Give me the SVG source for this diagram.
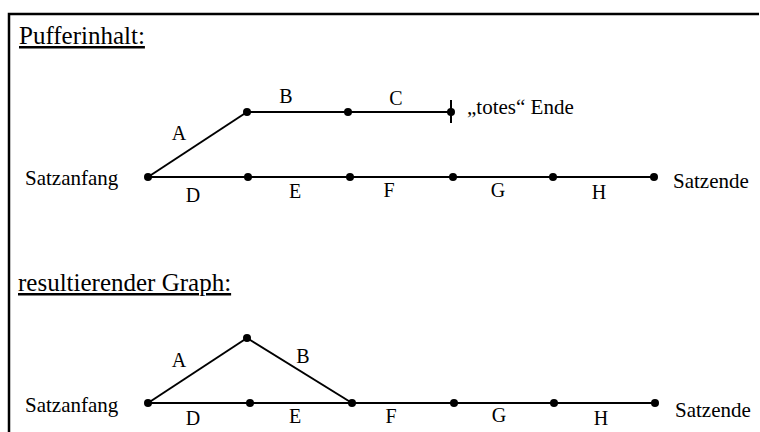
<svg xmlns="http://www.w3.org/2000/svg" width="760" height="432" viewBox="0 0 760 432">
<style>
.frame{fill:none;stroke:#000;stroke-width:2.5}
.edge{stroke:#000;stroke-width:2;fill:none}
.dot{fill:#000}
.lbl{font-family:"Liberation Serif","Times New Roman",serif;font-size:20px;fill:#000}
.end{font-family:"Liberation Serif","Times New Roman",serif;font-size:21px;fill:#000}
.title{font-family:"Liberation Serif","Times New Roman",serif;font-size:25px;fill:#000;text-decoration:underline}
</style>
<rect width="760" height="432" fill="#fff"/>
<path class="frame" d="M9,432 V14 H759"/>
<text class="title" x="19" y="44">Pufferinhalt:</text>
<text class="title" x="18" y="291">resultierender Graph:</text>
<g id="connectors">
<line class="edge" x1="148" y1="177" x2="247" y2="112"/>
<line class="edge" x1="247" y1="112" x2="451" y2="112"/>
<line class="edge" x1="451" y1="100" x2="451" y2="123"/>
<line class="edge" x1="148" y1="177" x2="654" y2="177"/>
<line class="edge" x1="148" y1="403" x2="247" y2="338"/>
<line class="edge" x1="247" y1="338" x2="352" y2="403"/>
<line class="edge" x1="148" y1="403" x2="655" y2="403"/>
</g>
<g id="top-graph">
<g id="t-start"><circle class="dot" cx="148" cy="177" r="4"/><text class="end" x="25" y="185">Satzanfang</text></g>
<g id="t-b1"><circle class="dot" cx="247" cy="112" r="4"/></g>
<g id="t-b2"><circle class="dot" cx="348" cy="112" r="4"/></g>
<g id="t-b3"><circle class="dot" cx="451" cy="112" r="4"/><text class="end" x="467" y="114">„totes“ Ende</text></g>
<g id="t-n1"><circle class="dot" cx="248" cy="177" r="4"/></g>
<g id="t-n2"><circle class="dot" cx="350" cy="177" r="4"/></g>
<g id="t-n3"><circle class="dot" cx="453" cy="177" r="4"/></g>
<g id="t-n4"><circle class="dot" cx="553" cy="177" r="4"/></g>
<g id="t-end"><circle class="dot" cx="654" cy="177" r="4"/><text class="end" x="673" y="188">Satzende</text></g>
<g id="t-labels" text-anchor="middle">
<text class="lbl" x="179" y="140">A</text>
<text class="lbl" x="286" y="103">B</text>
<text class="lbl" x="396" y="105">C</text>
<text class="lbl" x="193" y="202">D</text>
<text class="lbl" x="295" y="198">E</text>
<text class="lbl" x="389" y="197">F</text>
<text class="lbl" x="498" y="197">G</text>
<text class="lbl" x="599" y="199">H</text>
</g>
</g>
<g id="bottom-graph">
<g id="b-start"><circle class="dot" cx="148" cy="403" r="4"/><text class="end" x="25" y="412">Satzanfang</text></g>
<g id="b-apex"><circle class="dot" cx="247" cy="338" r="4"/></g>
<g id="b-n1"><circle class="dot" cx="250" cy="403" r="4"/></g>
<g id="b-n2"><circle class="dot" cx="352" cy="403" r="4"/></g>
<g id="b-n3"><circle class="dot" cx="454" cy="403" r="4"/></g>
<g id="b-n4"><circle class="dot" cx="554" cy="403" r="4"/></g>
<g id="b-end"><circle class="dot" cx="655" cy="403" r="4"/><text class="end" x="675" y="417">Satzende</text></g>
<g id="b-labels" text-anchor="middle">
<text class="lbl" x="179" y="367">A</text>
<text class="lbl" x="303" y="363">B</text>
<text class="lbl" x="193" y="425">D</text>
<text class="lbl" x="295" y="423">E</text>
<text class="lbl" x="391" y="423">F</text>
<text class="lbl" x="499" y="422">G</text>
<text class="lbl" x="601" y="425">H</text>
</g>
</g>
</svg>
